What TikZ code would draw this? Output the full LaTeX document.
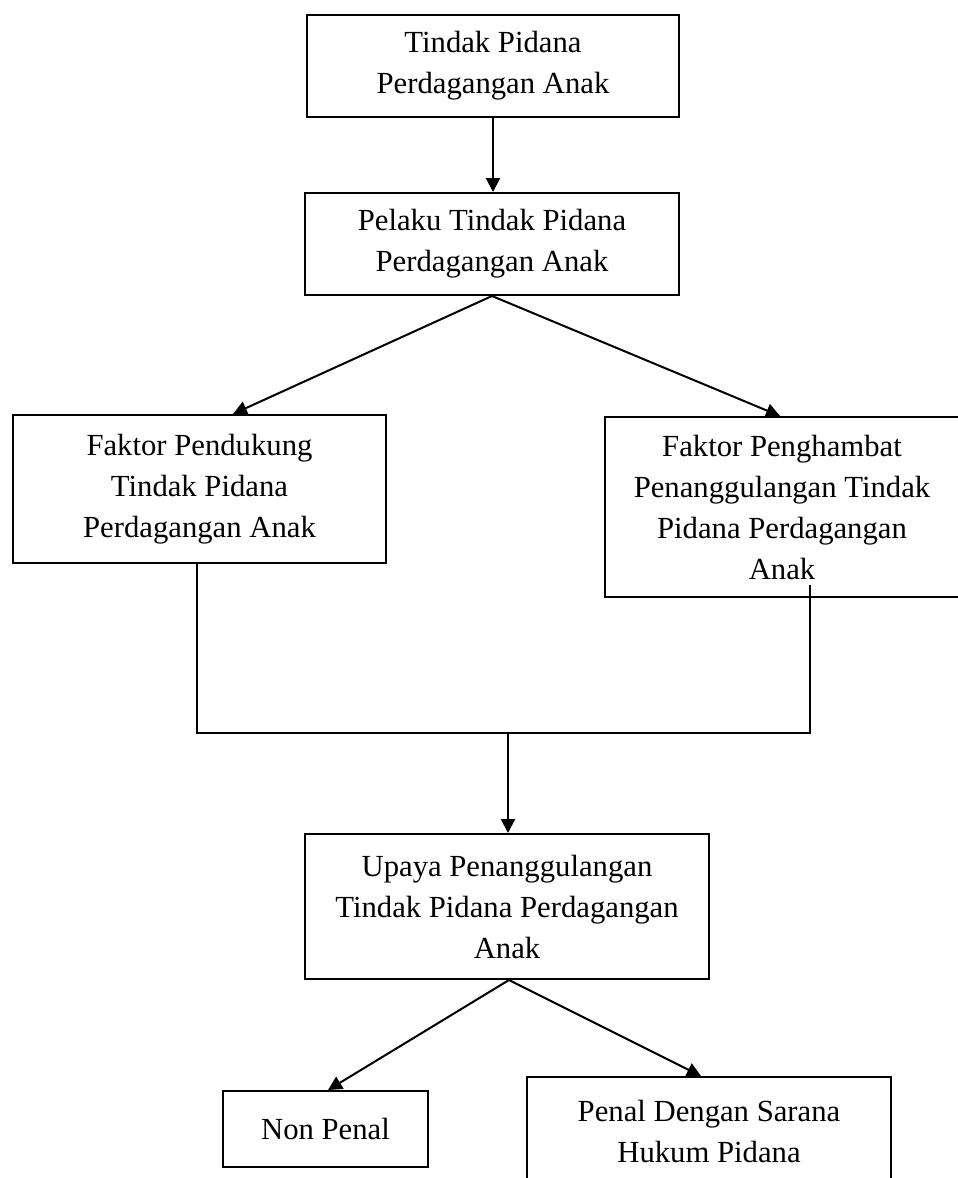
\documentclass[tikz,border=0pt]{standalone}
\usepackage{fontspec}
\setmainfont{Liberation Serif}
\usetikzlibrary{arrows.meta,positioning}

\begin{document}
\begin{tikzpicture}[
    x=0.5pt, y=-0.5pt,
    line width=1pt,
    box/.style={rectangle, draw, line width=1pt, align=center, inner sep=2pt, font=\fontsize{15.35pt}{20.5pt}\selectfont},
    arr/.style={-{Triangle[length=7pt,width=7pt]}},
]
\fill[white] (0,0) rectangle (958,1178);
\clip (0,0) rectangle (958,1178);

\node[box, minimum width=186pt, minimum height=51pt] (tindak) at (493,66) {Tindak Pidana\\Perdagangan Anak};
\node[box, minimum width=187pt, minimum height=51pt] (pelaku) at (492,244) {Pelaku Tindak Pidana\\Perdagangan Anak};

\node[box, minimum width=186.5pt, minimum height=74pt] (pendukung) at (199.5,489) {Faktor Pendukung\\Tindak Pidana\\Perdagangan Anak};
\node[box, minimum width=177pt, minimum height=90pt] (penghambat) at (782,507) {Faktor Penghambat\\Penanggulangan Tindak\\Pidana Perdagangan\\Anak};

\node[box, minimum width=202pt, minimum height=72.5pt] (upaya) at (507,906.5) {Upaya Penanggulangan\\Tindak Pidana Perdagangan\\Anak};

\node[box, minimum width=102.5pt, minimum height=38pt] (nonpenal) at (325.5,1129) {Non Penal};
\node[box, minimum width=182pt, minimum height=54pt] (penal) at (709,1131) {Penal Dengan Sarana\\Hukum Pidana};

% titik sambung
\coordinate (kiri) at (197,733);
\coordinate (kanan) at (810,733);
\coordinate (tengah) at (508,733);
\coordinate (ujung) at (810,585);

\draw[arr] (tindak.south) -- (tindak.south |- pelaku.north);
\draw[arr] (pelaku.south) -- ([xshift=16.75pt]pendukung.north);
\draw[arr] (pelaku.south) -- ([xshift=-1pt]penghambat.north);

\draw ([xshift=-1.25pt]pendukung.south) -- (kiri) -- (kanan) -- (ujung);
\draw[arr] (tengah) -- (tengah |- upaya.north);

\draw[arr] ([xshift=1pt]upaya.south) -- ([xshift=1.25pt]nonpenal.north);
\draw[arr] ([xshift=1pt]upaya.south) -- ([xshift=-4pt]penal.north);
\end{tikzpicture}
\end{document}
